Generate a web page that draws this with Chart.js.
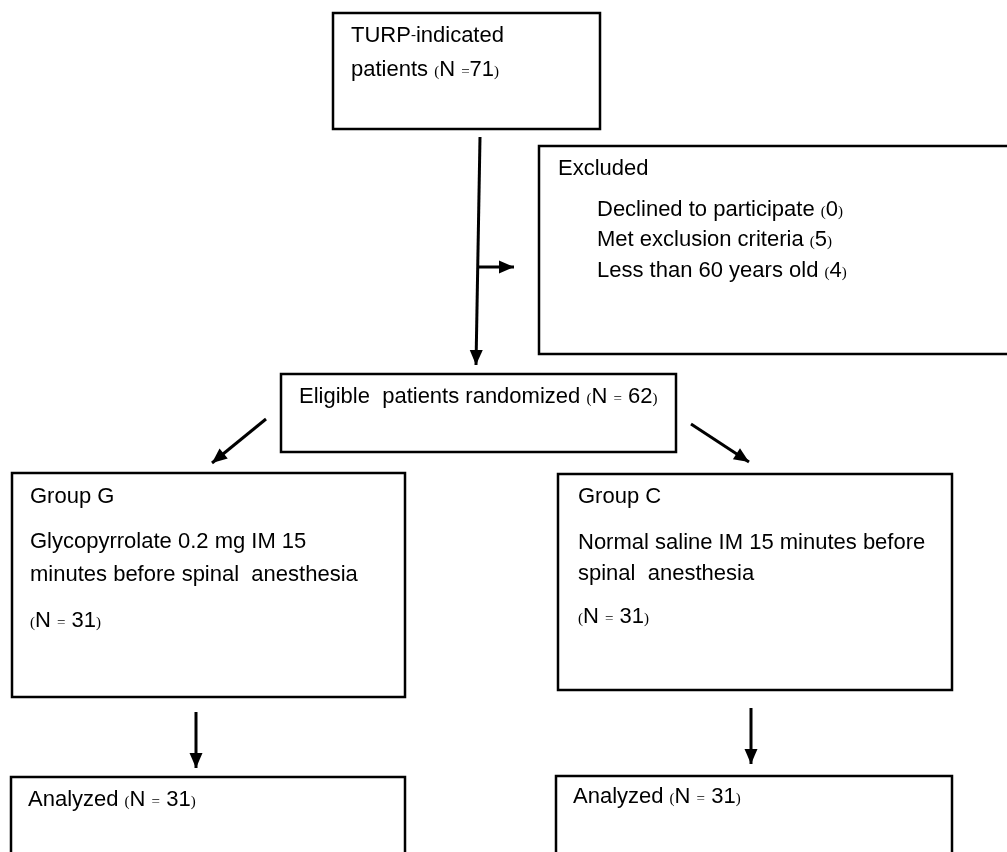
<!DOCTYPE html>
<html>
<head>
<meta charset="utf-8">
<title>TURP flow diagram</title>
<script src="https://cdn.jsdelivr.net/npm/chart.js@4.4.1/dist/chart.umd.min.js"></script>
<style>
  html, body { margin: 0; padding: 0; background: #fff; overflow: hidden; }
  #wrap { width: 1007px; height: 852px; }
</style>
</head>
<body>
<div id="wrap"><canvas id="flow" width="1007" height="852"></canvas></div>
<script>
/* ── Data (diagram units, 1 unit = 1 px of the 1007x852 frame) ── */
const boxText = [
  ['TURP-indicated', 'patients (N =71)'],
  ['Excluded', 'Declined to participate (0)', 'Met exclusion criteria (5)', 'Less than 60 years old (4)'],
  ['Eligible  patients randomized (N = 62)'],
  ['Group G', 'Glycopyrrolate 0.2 mg IM 15', 'minutes before spinal  anesthesia', '(N = 31)'],
  ['Group C', 'Normal saline IM 15 minutes before', 'spinal  anesthesia', '(N = 31)'],
  ['Analyzed (N = 31)'],
  ['Analyzed (N = 31)'],
];
const boxLeft   = [333, 539, 281, 12, 558, 11, 556];
const boxRight  = [600, 1012, 676, 405, 952, 405, 952];
const boxTop    = [13, 146, 374, 473, 474, 777, 776];
const boxBottom = [129, 354, 452, 697, 690, 880, 880];

// text baselines and left edges per box line
const lineY = [[42, 76], [175, 216, 246, 277], [403], [503, 548, 581, 627], [503, 549, 580, 623], [806], [803]];
const lineX = [[351, 351], [558, 597, 597, 597], [299], [30, 30, 30, 30], [578, 578, 578, 578], [28], [573]];

// arrows: start -> tip
const arrowFrom = [[480, 137], [479, 267], [266, 419], [691, 424], [196, 712], [751, 708]];
const arrowTo   = [[476, 365], [514, 267], [212, 463], [749, 462], [196, 768], [751, 764]];

/* ── Text helper: brackets, '=' and '-' are set smaller, as in the original ── */
const SMALL = /[()=\-]/;
function drawRich(ctx, text, x, y) {
  let cx = x;
  for (const ch of text) {
    const small = SMALL.test(ch);
    ctx.font = small ? '15px "Liberation Serif"' : '22px "Liberation Sans"';
    ctx.fillText(ch, cx, ch === '-' ? y - 3 : y);
    cx += ctx.measureText(ch).width;
  }
}

/* ── Plugins ── */
const boxPlugin = {
  id: 'boxes',
  beforeDatasetsDraw(chart) {
    const { ctx, scales: { x, y } } = chart;
    ctx.save();
    ctx.strokeStyle = '#000';
    ctx.lineWidth = 2.5;
    boxText.forEach((lines, i) => {
      const l = x.getPixelForValue(boxLeft[i]);
      const r = x.getPixelForValue(boxRight[i]);
      const t = y.getPixelForValue(boxTop[i]);
      const b = y.getPixelForValue(boxBottom[i]);
      ctx.strokeRect(l, t, r - l, b - t);

      ctx.fillStyle = '#000';
      ctx.textBaseline = 'alphabetic';
      lines.forEach((txt, j) => {
        drawRich(ctx, txt, x.getPixelForValue(lineX[i][j]), y.getPixelForValue(lineY[i][j]));
      });
    });
    ctx.restore();
  }
};

const headPlugin = {
  id: 'heads',
  afterDatasetsDraw(chart) {
    const ctx = chart.ctx;
    ctx.save();
    ctx.fillStyle = '#000';
    chart.data.datasets.forEach((ds, i) => {
      const pts = chart.getDatasetMeta(i).data;
      const a = pts[0], b = pts[1];
      const ang = Math.atan2(b.y - a.y, b.x - a.x);
      const len = 15, half = 6.5;
      ctx.beginPath();
      ctx.moveTo(b.x, b.y);
      ctx.lineTo(b.x - len * Math.cos(ang) + half * Math.sin(ang), b.y - len * Math.sin(ang) - half * Math.cos(ang));
      ctx.lineTo(b.x - len * Math.cos(ang) - half * Math.sin(ang), b.y - len * Math.sin(ang) + half * Math.cos(ang));
      ctx.closePath();
      ctx.fill();
    });
    ctx.restore();
  }
};

/* ── Chart ── */
const datasets = arrowFrom.map((p, i) => ({
  data: [{ x: p[0], y: p[1] }, { x: arrowTo[i][0], y: arrowTo[i][1] }],
  showLine: true,
  borderColor: '#000',
  borderWidth: 3,
  pointRadius: 0,
  tension: 0,
}));

new Chart(document.getElementById('flow'), {
  type: 'scatter',
  data: { datasets },
  options: {
    responsive: false,
    animation: false,
    events: [],
    layout: { padding: 0 },
    plugins: { legend: { display: false }, tooltip: { enabled: false } },
    scales: {
      x: { type: 'linear', min: 0, max: 1007, display: false },
      y: { type: 'linear', min: 0, max: 852, reverse: true, display: false },
    },
  },
  plugins: [boxPlugin, headPlugin],
});
</script>
</body>
</html>
